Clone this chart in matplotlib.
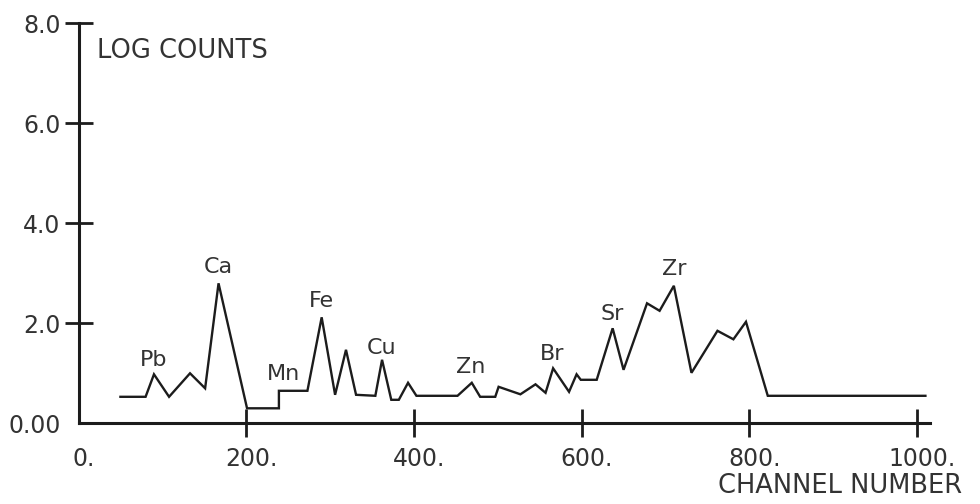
import numpy as np
import matplotlib.pyplot as plt
from matplotlib.transforms import ScaledTranslation

# spectrum: channel number and log counts
channel = [50, 80, 90, 108, 133, 151, 167, 201, 239, 239, 273, 290, 306, 319, 331,
           354, 362, 373, 382, 393, 403, 452, 469, 479, 497, 501, 527, 545, 557, 566,
           585, 594, 599, 618, 637, 650, 678, 693, 710, 731, 762, 781, 796, 822, 1010]
log_counts = [0.53, 0.53, 0.98, 0.53, 1.00, 0.70, 2.80, 0.30, 0.30, 0.65, 0.65, 2.12,
              0.57, 1.47, 0.57, 0.55, 1.27, 0.47, 0.47, 0.81, 0.55, 0.55, 0.81, 0.53,
              0.53, 0.73, 0.58, 0.78, 0.61, 1.10, 0.63, 0.98, 0.87, 0.87, 1.90, 1.07,
              2.40, 2.25, 2.75, 1.01, 1.85, 1.68, 2.03, 0.55, 0.55]

# element labels and the channel they sit over
elements = ['Pb', 'Ca', 'Mn', 'Fe', 'Cu', 'Zn', 'Br', 'Sr', 'Zr']
element_channel = [89, 167, 245, 290, 361, 468, 565, 636, 710]

yticks = [0, 2, 4, 6, 8]
ytick_labels = ['0.00', '2.0', '4.0', '6.0', '8.0']
xticks = [0, 200, 400, 600, 800, 1000]
xtick_labels = ['0.', '200.', '400.', '600.', '800.', '1000.']

ink = '#1c1c1c'
txt = '#333333'
plt.rcParams['font.family'] = ['DejaVu Sans']

fig = plt.figure(figsize=(9.8, 5.04), dpi=100)
ax = fig.add_axes([78.5 / 980, 80.7 / 504, 855.3 / 980, 400 / 504])
ax.set_xlim(0, 1020)
ax.set_ylim(0, 8)

ax.plot(channel, log_counts, color=ink, linewidth=1.7, solid_joinstyle='miter')

for name, ch in zip(elements, element_channel):
    y = np.interp(ch, channel, log_counts)
    ax.annotate(name, (ch, y), xytext=(0, 12), textcoords='offset points',
                ha='center', va='center', fontsize=16, color=txt)

for s in ['top', 'right']:
    ax.spines[s].set_visible(False)
for s in ['left', 'bottom']:
    ax.spines[s].set_linewidth(2.2)
    ax.spines[s].set_color(ink)
ax.spines['bottom'].set_bounds(0, 1016)

ax.set_yticks(yticks)
ax.set_yticklabels(ytick_labels)
ax.set_xticks(xticks)
ax.set_xticklabels(xtick_labels)
ax.tick_params(axis='both', direction='inout', width=2.0, color=ink,
               labelsize=17, labelcolor=txt)
ax.tick_params(axis='y', length=20, pad=3)
ax.tick_params(axis='x', length=20, pad=7)

# no tick marks at the corner
ax.xaxis.get_major_ticks()[0].tick1line.set_visible(False)
ax.yaxis.get_major_ticks()[0].tick1line.set_visible(False)

# x labels sit a little right of their ticks
shift = ScaledTranslation(5 / 100, 0, fig.dpi_scale_trans)
for lab in ax.get_xticklabels():
    lab.set_transform(lab.get_transform() + shift)

fig.text(97 / 980, 1 - 51 / 504, 'LOG COUNTS', ha='left', va='center',
         fontsize=18.5, color=txt)
fig.text(840 / 980, 1 - 486 / 504, 'CHANNEL NUMBER', ha='center', va='center',
         fontsize=18.5, color=txt)

fig.savefig('out.png', dpi=100, facecolor='white')
